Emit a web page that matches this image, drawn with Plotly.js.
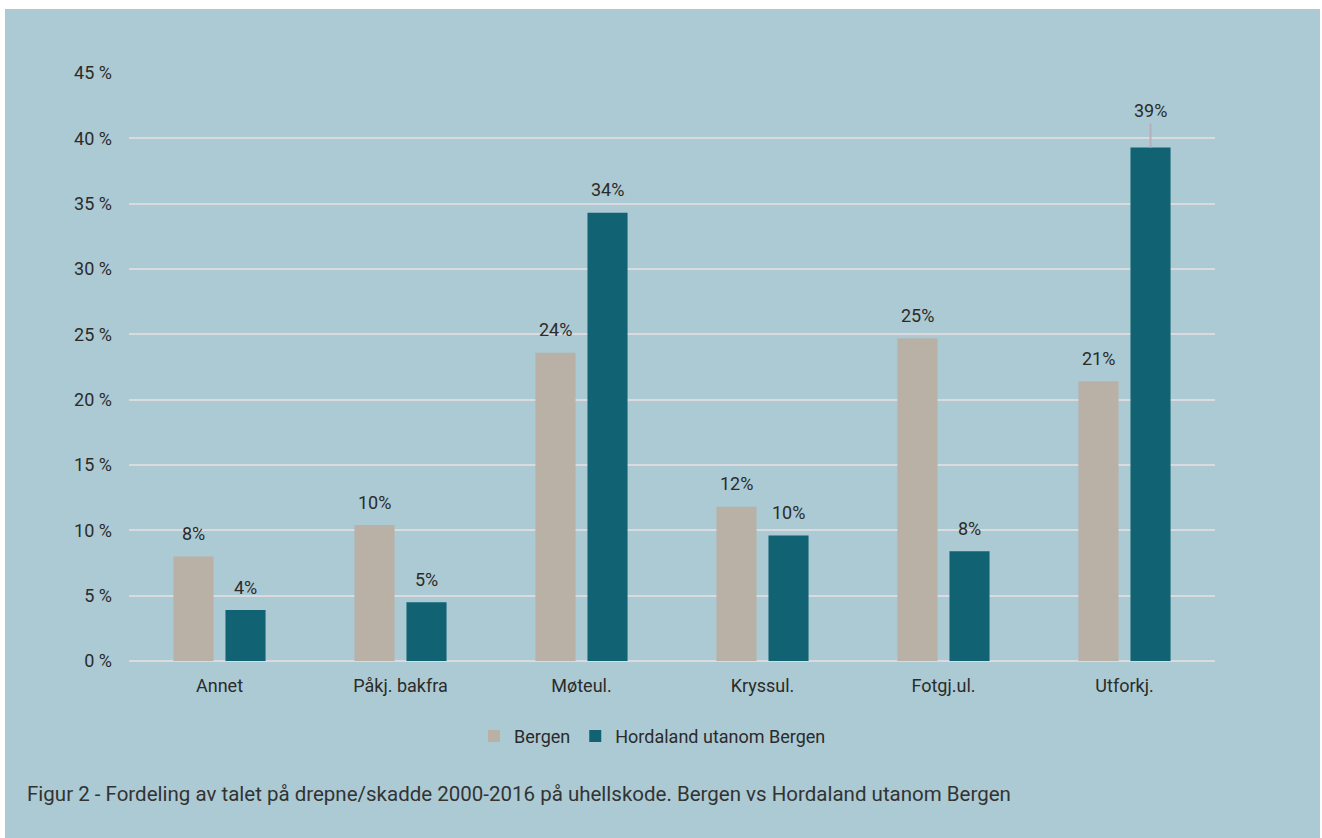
<!DOCTYPE html>
<html>
<head>
<meta charset="utf-8">
<script src="https://cdn.plot.ly/plotly-3.0.1.min.js"></script>
<style>
html,body{margin:0;padding:0;background:#ffffff;}
#chart{position:absolute;left:5px;top:9px;width:1315px;height:829px;}
</style>
</head>
<body>
<div id="chart"></div>
<script>
const categories = ["Annet", "Påkj. bakfra", "Møteul.", "Kryssul.", "Fotgj.ul.", "Utforkj."];
const bergen = [8.0, 10.4, 23.6, 11.8, 24.7, 21.4];
const hordaland = [3.9, 4.5, 34.3, 9.6, 8.4, 39.3];
const seriesNames = ["Bergen", "Hordaland utanom Bergen"];
const caption = "Figur 2 - Fordeling av talet på drepne/skadde 2000-2016 på uhellskode. Bergen vs Hordaland utanom Bergen";

const FONT = "Roboto, 'DejaVu Sans', sans-serif";
const TXT = "#2b2b2b";

const traces = [
  {type: "bar", name: seriesNames[0], x: categories, y: bergen, marker: {color: "#B9B0A6"}, hoverinfo: "none"},
  {type: "bar", name: seriesNames[1], x: categories, y: hordaland, marker: {color: "#116272"}, hoverinfo: "none"}
];

const annotations = [];
function addLabels(vals, xshift) {
  vals.forEach((v, i) => {
    const big = v > 38;
    annotations.push({
      x: categories[i], y: v, xref: "x", yref: "y",
      text: Math.round(v) + "%",
      xshift: xshift,
      showarrow: big, ax: 0, ay: big ? -24 : 0, arrowhead: 0, arrowwidth: 2, arrowcolor: "#B7AFB9",
      yshift: big ? 0 : 23,
      yanchor: big ? "bottom" : "middle",
      font: {family: FONT, size: 18, color: TXT}
    });
  });
}
addLabels(bergen, -26);
addLabels(hordaland, 26);
annotations.push({
  xref: "paper", yref: "paper", x: -0.0958, y: -0.2257, xanchor: "left", yanchor: "middle",
  text: caption, showarrow: false, font: {family: FONT, size: 20.5, color: "#333333"}
});

const layout = {
  width: 1315, height: 829,
  paper_bgcolor: "#ABCAD3", plot_bgcolor: "#ABCAD3",
  margin: {l: 124, r: 105, t: 64, b: 177},
  font: {family: FONT, size: 18, color: TXT},
  barmode: "group", bargap: 0.425, bargroupgap: 0.23,
  showlegend: true,
  legend: {orientation: "h", x: 0.482, xanchor: "center", y: -0.128, yanchor: "middle",
           font: {family: FONT, size: 18, color: TXT}, itemwidth: 30, tracegroupgap: 0},
  xaxis: {showgrid: false, showline: false, zeroline: false, ticks: "", tickfont: {size: 18},
          ticklabelstandoff: 12, fixedrange: true},
  yaxis: {range: [0, 45], dtick: 5, ticksuffix: " %", showgrid: true, gridcolor: "#DADADF", gridwidth: 2,
          zeroline: true, zerolinecolor: "#DADADF", zerolinewidth: 2, showline: false, ticks: "",
          ticklabelstandoff: 16, tickfont: {size: 18}, fixedrange: true},
  annotations: annotations
};

Plotly.newPlot("chart", traces, layout, {displayModeBar: false, staticPlot: true});
</script>
</body>
</html>
